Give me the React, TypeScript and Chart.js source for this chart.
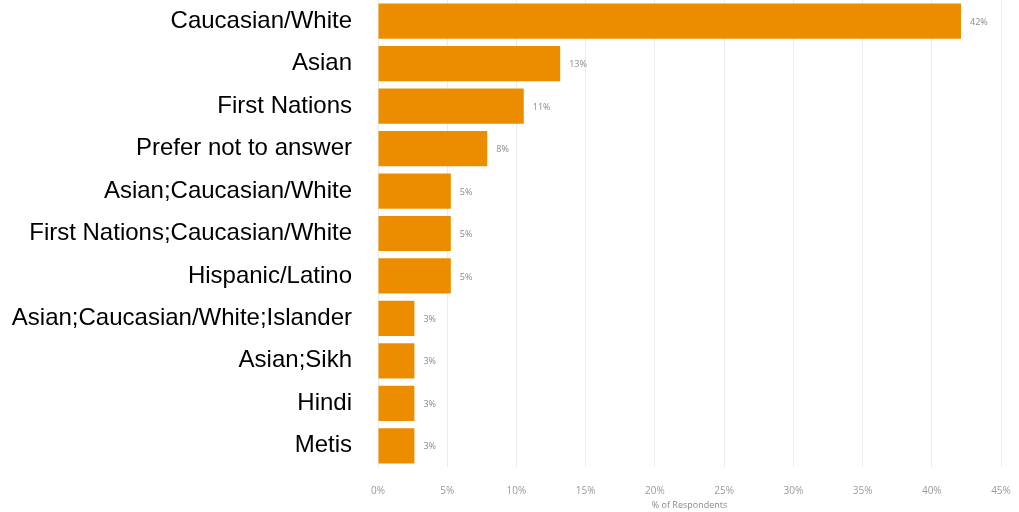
import React, { useEffect, useRef } from "react";
import { Chart, registerables } from "chart.js";

Chart.register(...registerables);

const categories = [
  "Caucasian/White",
  "Asian",
  "First Nations",
  "Prefer not to answer",
  "Asian;Caucasian/White",
  "First Nations;Caucasian/White",
  "Hispanic/Latino",
  "Asian;Caucasian/White;Islander",
  "Asian;Sikh",
  "Hindi",
  "Metis",
];
const values = [42.11, 13.16, 10.53, 7.89, 5.26, 5.26, 5.26, 2.63, 2.63, 2.63, 2.63];
const valueLabels = ["42%", "13%", "11%", "8%", "5%", "5%", "5%", "3%", "3%", "3%", "3%"];
const xTicks = [0, 5, 10, 15, 20, 25, 30, 35, 40, 45];

const dataLabelPlugin = {
  id: "dataLabels",
  afterDatasetsDraw(chart: any) {
    const ctx = chart.ctx;
    const meta = chart.getDatasetMeta(0);
    ctx.save();
    ctx.font = "9px 'Open Sans', sans-serif";
    ctx.fillStyle = "#8a8a8a";
    ctx.textBaseline = "middle";
    ctx.textAlign = "left";
    meta.data.forEach((bar: any, i: number) => {
      ctx.fillText(valueLabels[i], bar.x + 9, bar.y + 1);
    });
    ctx.restore();
  },
};

export default function App() {
  const ref = useRef<HTMLCanvasElement>(null);
  useEffect(() => {
    if (!ref.current) return;
    const chart = new Chart(ref.current, {
      type: "bar",
      data: {
        labels: categories,
        datasets: [
          {
            data: values,
            backgroundColor: "#EC8D00",
            barPercentage: 0.83,
            categoryPercentage: 1,
          },
        ],
      },
      options: {
        indexAxis: "y",
        animation: false,
        responsive: false,
        maintainAspectRatio: false,
        layout: { padding: { top: -1, right: 18, bottom: 0, left: 0 } },
        plugins: {
          legend: { display: false },
          tooltip: { enabled: false },
        },
        scales: {
          x: {
            min: 0,
            max: 45,
            afterBuildTicks: (scale: any) => {
              scale.ticks = xTicks.map((v) => ({ value: v }));
            },
            afterFit: (scale: any) => {
              scale.height = 45;
              scale.paddingLeft = 0;
              scale.paddingRight = 0;
            },
            grid: { color: "#ebebeb", drawTicks: false, lineWidth: 1 },
            border: { display: false },
            ticks: {
              padding: 18,
              color: "#9a9a9a",
              font: { family: "'Open Sans', sans-serif", size: 10 },
              callback: (v: any) => v + "%",
            },
            title: {
              display: true,
              text: "% of Respondents",
              color: "#8a8a8a",
              font: { family: "'Open Sans', sans-serif", size: 9 },
              padding: { top: 0, bottom: 1 },
            },
          },
          y: {
            grid: { display: false, drawTicks: false },
            border: { display: false },
            ticks: {
              padding: 26,
              color: "#000000",
              font: { family: "'Liberation Sans', Arial, sans-serif", size: 24 },
            },
            afterFit: (scale: any) => {
              scale.width = 378;
              scale.paddingTop = 0;
              scale.paddingBottom = 0;
            },
          },
        },
      },
      plugins: [dataLabelPlugin],
    });
    return () => chart.destroy();
  }, []);
  return (
    <div style={{ position: "absolute", left: 0, top: 0, width: 1019, height: 512, background: "#fff" }}>
      <canvas ref={ref} width={1019} height={512} style={{ width: 1019, height: 512 }} />
    </div>
  );
}
